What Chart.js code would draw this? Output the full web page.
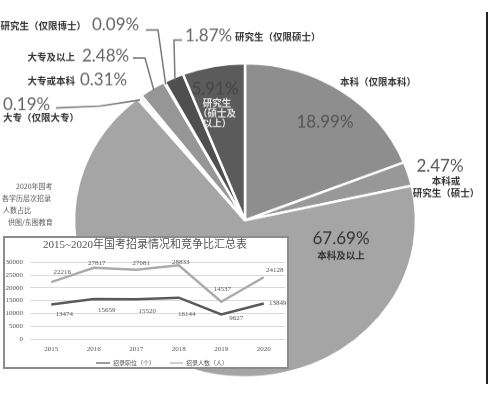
<!DOCTYPE html>
<html>
<head>
<meta charset="utf-8">
<script src="https://cdn.jsdelivr.net/npm/chart.js@4.4.1/dist/chart.umd.min.js"></script>
<style>
html, body { margin: 0; padding: 0; background: #fff; overflow: hidden; }
#wrap { position: relative; width: 489px; height: 393px; overflow: hidden; background: #fff; }
#pie { position: absolute; left: 0; top: 0; transform-origin: 0 0; transform: scaleY(0.918); }
#inset { position: absolute; left: 3px; top: 236px; width: 282px; height: 129px; border: 2px solid #8c8c8c; background: #fff; overflow: hidden; }
#line { position: absolute; left: 0; top: 0; }
#edge { position: absolute; left: 486px; top: 12px; width: 2px; height: 372px; background: #222; }
</style>
</head>
<body>
<div id="wrap">
  <canvas id="pie" width="489" height="428"></canvas>
  <div id="inset"><canvas id="line" width="282" height="129"></canvas></div>
  <div id="edge"></div>
</div>
<script>
// pie: share of 2020 national exam recruits by education level
const categories = ['本科（仅限本科）', '本科或研究生（硕士）', '本科及以上', '大专（仅限大专）', '大专或本科',
                    '大专及以上', '研究生（仅限博士）', '研究生（仅限硕士）', '研究生（硕士及以上）'];
const shares = [18.99, 2.47, 67.69, 0.19, 0.31, 2.48, 0.09, 1.87, 5.91];
const sliceColors = ['#8e8e8e', '#989898', '#a5a5a5', '#dedede', '#e6e6e6', '#969696', '#d4d4d4', '#4f4f4f', '#5b5b5b'];
const note = ['2020年国考', '各学历层次招录', '人数占比', '供图/东图教育'];

// inset line chart
const title = '2015~2020年国考招录情况和竞争比汇总表';
const years = ['2015', '2016', '2017', '2018', '2019', '2020'];
const posts = [13474, 15659, 15520, 16144, 9627, 13849];
const recruits = [22216, 27817, 27081, 28833, 14537, 24128];
const seriesNames = ['招录职位（个）', '招录人数（人）'];

const K = 0.918; // pie is printed a bit squashed

// where the labels go (screen px)
const pieLayout = [
  { pct: [325, 122, 'center', '#555'], name: [378, 82, 'center'] },
  { pct: [440, 166, 'center', '#555'], name: [446, 181, 'center'], breaks: [3], gap: 12 },
  { pct: [341, 239, 'center', '#333'], name: [341, 255, 'center'] },
  { pct: [3, 105, 'left', '#666'], name: [3, 118, 'left'], lead: [[56, 108], [100, 106]] },
  { pct: [80, 80, 'left', '#666'], name: [75, 81, 'right'] },
  { pct: [82, 56, 'left', '#666'], name: [75, 57, 'right'], lead: [[133, 58], [145, 58]] },
  { pct: [92, 25, 'left', '#666'], name: [86, 26, 'right'], lead: [[146, 30], [158, 30]] },
  { pct: [185, 36, 'left', '#666'], name: [235, 37, 'left'], lead: [[182, 40], [174, 40]] },
  { pct: [215, 89, 'center', '#474747'], name: [217, 103, 'center', '#e6e6e6'], breaks: [3, 7], gap: 10 }
];

function splitName(s, breaks) {
  if (!breaks) return [s];
  const out = [];
  let prev = 0;
  breaks.forEach(b => { out.push(s.slice(prev, b)); prev = b; });
  out.push(s.slice(prev));
  return out;
}

const pieLabels = {
  id: 'pieLabels',
  afterDraw(chart) {
    const ctx = chart.ctx;
    const arcs = chart.getDatasetMeta(0).data;
    ctx.save();
    ctx.scale(1, 1 / K);
    ctx.textBaseline = 'middle';

    arcs.forEach((arc, i) => {
      const L = pieLayout[i];
      if (L.lead) {
        const a = (arc.startAngle + arc.endAngle) / 2;
        const r = arc.outerRadius - 3;
        const ex = arc.x + r * Math.cos(a), ey = (arc.y + r * Math.sin(a)) * K;
        ctx.strokeStyle = '#7a7a7a';
        ctx.lineWidth = 1.5;
        ctx.beginPath();
        ctx.moveTo(L.lead[0][0], L.lead[0][1]);
        L.lead.slice(1).forEach(p => ctx.lineTo(p[0], p[1]));
        ctx.lineTo(ex, ey);
        ctx.stroke();
      }
      ctx.font = '17px Lato';
      ctx.fillStyle = L.pct[3];
      ctx.textAlign = L.pct[2];
      ctx.fillText(shares[i].toFixed(2) + '%', L.pct[0], L.pct[1]);

      ctx.font = 'bold 9.5px "Noto Sans CJK SC"';
      ctx.fillStyle = L.name[3] || '#333';
      ctx.textAlign = L.name[2];
      splitName(categories[i], L.breaks).forEach((t, j) => {
        ctx.fillText(t, L.name[0], L.name[1] + j * (L.gap || 0));
      });
    });

    ctx.font = '7px "Noto Sans CJK SC"';
    ctx.fillStyle = '#555';
    ctx.textAlign = 'left';
    const noteX = [16, 2, 3, 8];
    note.forEach((t, j) => ctx.fillText(t, noteX[j], 186 + j * 12));
    ctx.restore();
  }
};

new Chart(document.getElementById('pie'), {
  type: 'pie',
  data: {
    labels: categories,
    datasets: [{
      data: shares,
      backgroundColor: sliceColors,
      borderColor: '#fff',
      borderWidth: 2.5
    }]
  },
  options: {
    responsive: false,
    animation: false,
    radius: 171,
    layout: { padding: { left: 1, right: 0, top: 52, bottom: 0 } },
    plugins: { legend: { display: false }, tooltip: { enabled: false } }
  },
  plugins: [pieLabels]
});

// value labels next to line points (canvas px offsets)
const labelOffsets = [
  [[13, 10], [13, 11], [11, 12], [8, 16], [15, 4], [14, 0]],
  [[11, -10], [3, -5], [5, -7], [2, -3], [1, -13], [11, -7]]
];

const lineExtras = {
  id: 'lineExtras',
  afterDatasetsDraw(chart) {
    const ctx = chart.ctx;
    ctx.save();
    ctx.font = '7px "Liberation Serif"';
    ctx.fillStyle = '#555';
    ctx.textAlign = 'center';
    ctx.textBaseline = 'middle';
    chart.data.datasets.forEach((ds, di) => {
      chart.getDatasetMeta(di).data.forEach((pt, i) => {
        const o = labelOffsets[di][i];
        ctx.fillText(String(ds.data[i]), pt.x + o[0], pt.y + o[1]);
      });
    });
    // legend
    const lx = [[91, 105, 108], [165, 178, 181]];
    ctx.font = '6px "Noto Sans CJK SC"';
    ctx.textAlign = 'left';
    chart.data.datasets.forEach((ds, di) => {
      const y = 125;
      ctx.strokeStyle = ds.borderColor;
      ctx.lineWidth = 1.2;
      ctx.beginPath();
      ctx.moveTo(lx[di][0], y);
      ctx.lineTo(lx[di][1], y);
      ctx.stroke();
      ctx.fillStyle = '#555';
      ctx.fillText(ds.label, lx[di][2], y);
    });
    ctx.restore();
  }
};

const tickFont = { family: '"Liberation Serif"', size: 7 };

new Chart(document.getElementById('line'), {
  type: 'line',
  data: {
    labels: years,
    datasets: [
      { label: seriesNames[0], data: posts, borderColor: '#5a5a5a', borderWidth: 2.5, pointRadius: 0, tension: 0 },
      { label: seriesNames[1], data: recruits, borderColor: '#ababab', borderWidth: 2.5, pointRadius: 0, tension: 0 }
    ]
  },
  options: {
    responsive: false,
    animation: false,
    layout: { padding: { left: 0, right: 2, top: 0, bottom: 7.6 } },
    scales: {
      x: {
        offset: true,
        grid: { display: false, drawTicks: false, offset: true },
        border: { display: false },
        ticks: { font: tickFont, color: '#555', padding: 6 }
      },
      y: {
        min: 0,
        max: 30000,
        ticks: { stepSize: 5000, font: tickFont, color: '#555', padding: 7, callback: v => String(v) },
        grid: { color: '#dadada', drawTicks: false },
        border: { display: false },
        afterFit(s) { s.width = 25; }
      }
    },
    plugins: {
      title: {
        display: true,
        text: title,
        font: { family: '"Liberation Serif", "Noto Sans CJK SC"', size: 11, weight: 'normal' },
        color: '#555',
        padding: { top: 1, bottom: 10 }
      },
      legend: { display: false },
      tooltip: { enabled: false }
    }
  },
  plugins: [lineExtras]
});
</script>
</body>
</html>
